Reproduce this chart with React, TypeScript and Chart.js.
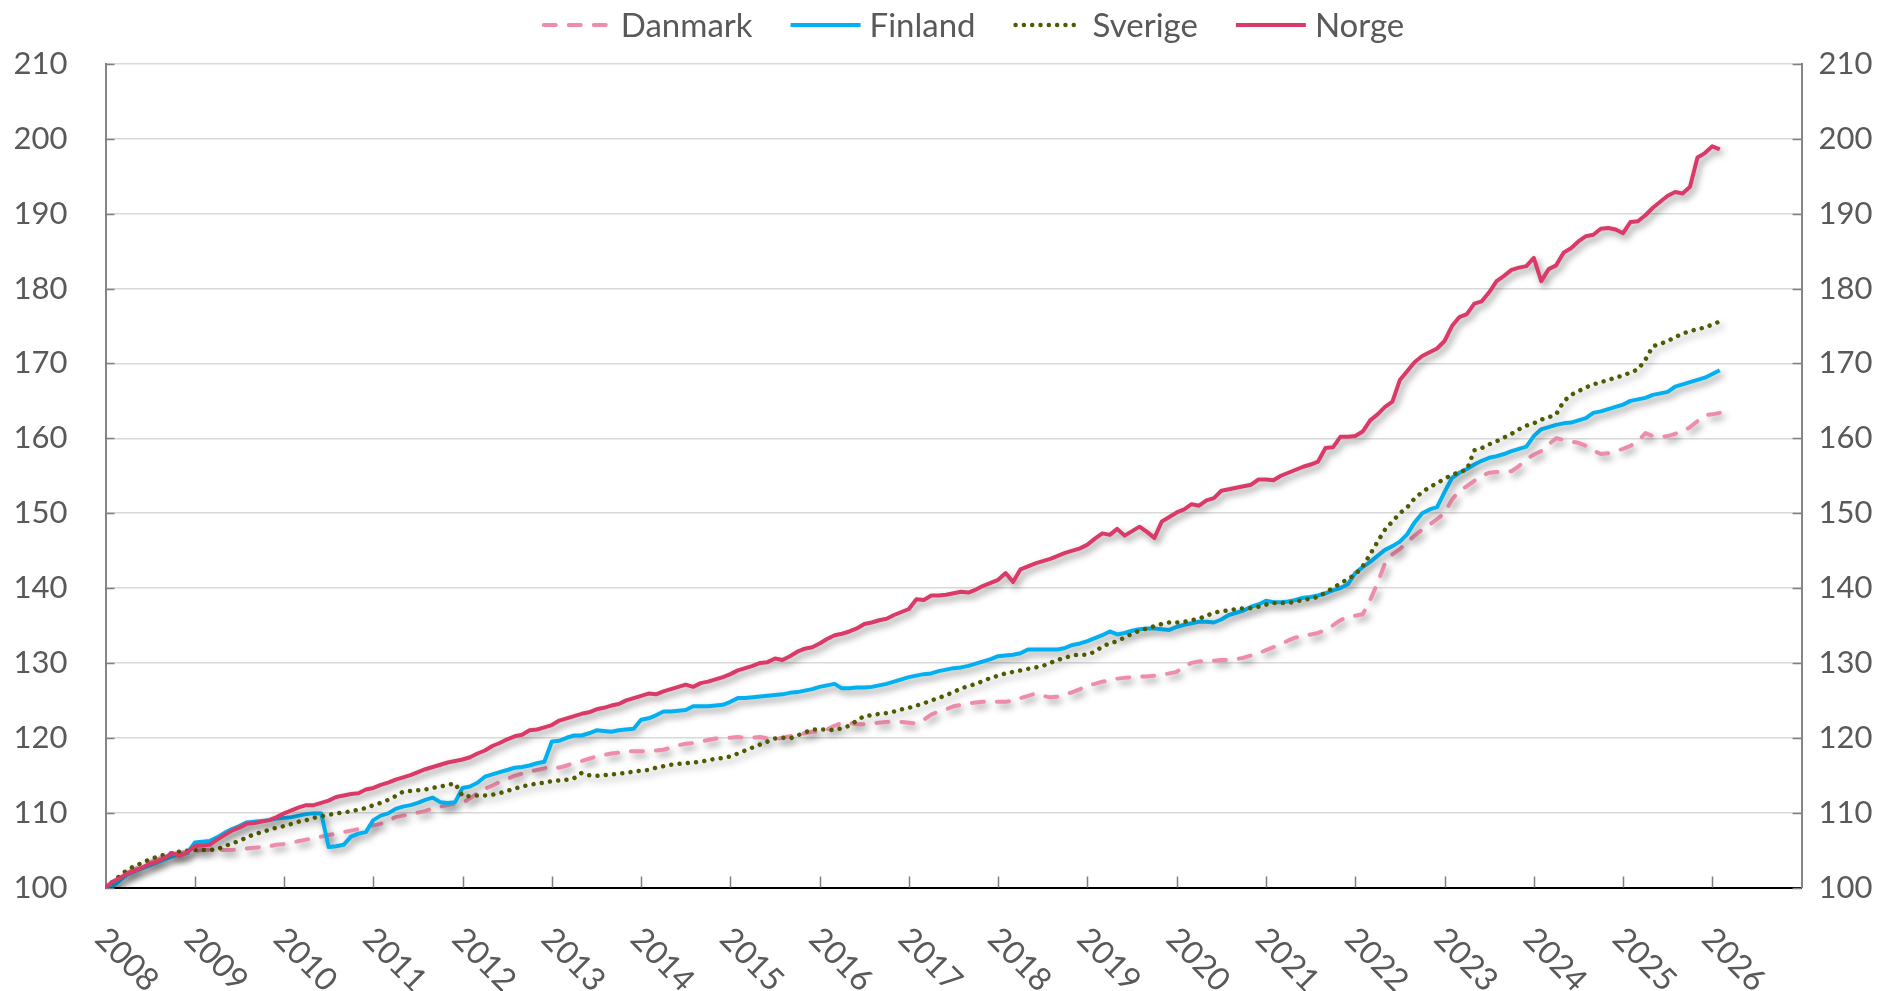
import React, { useEffect, useRef } from "react";
import { Chart, registerables } from "chart.js";

Chart.register(...registerables);

// ---------- DATA (monthly, Jan 2008 – Feb 2026) ----------
const startYear = 2008;
const yearTicks = [2008, 2009, 2010, 2011, 2012, 2013, 2014, 2015, 2016, 2017, 2018, 2019, 2020, 2021, 2022, 2023, 2024, 2025, 2026];
const yTicks = [100, 110, 120, 130, 140, 150, 160, 170, 180, 190, 200, 210];
const seriesNames = ["Danmark", "Finland", "Sverige", "Norge"];

const danmark = [
  100, 100.6, 101.4, 102.0, 102.5, 103.0, 103.4, 103.8, 104.1, 104.4, 104.6, 104.8,
  104.9, 105.0, 105.0, 105.0, 105.0, 105.0, 105.1, 105.2, 105.3, 105.4, 105.5, 105.7,
  105.8, 106.0, 106.2, 106.4, 106.6, 106.8, 107.0, 107.2, 107.4, 107.6, 107.8, 108.1,
  108.3, 108.5, 108.9, 109.4, 109.6, 109.8, 110.0, 110.2, 110.6, 110.8, 111.0, 111.2,
  111.3, 111.9, 112.6, 113.2, 113.6, 114.1, 114.5, 114.9, 115.2, 115.5, 115.7, 115.9,
  116.2, 116.0, 116.3, 116.6, 116.9, 117.2, 117.5, 117.7, 117.9, 118.0, 118.2, 118.2,
  118.2, 118.2, 118.3, 118.4, 118.7, 119.0, 119.2, 119.3, 119.5, 119.7, 119.9, 120.0,
  120.0, 120.1, 120.0, 120.0, 120.1, 119.9, 119.8, 120.0, 120.2, 120.4, 120.6, 120.8,
  120.8, 121.1, 121.6, 122.0, 122.0, 121.8, 121.8, 121.9, 122.0, 122.1, 122.1, 122.1,
  122.0, 121.9, 122.4, 123.1, 123.5, 123.8, 124.2, 124.4, 124.6, 124.7, 124.8, 124.8,
  124.8, 124.8, 125.0, 125.3, 125.6, 125.9, 125.6, 125.4, 125.5, 125.8, 126.1, 126.5,
  127.0, 127.2, 127.5, 127.7, 127.9, 128.0, 128.1, 128.2, 128.2, 128.3, 128.4, 128.6,
  128.8, 129.6, 130.0, 130.2, 130.3, 130.3, 130.4, 130.4, 130.5, 130.7, 131.0, 131.3,
  131.7, 132.1, 132.5, 133.0, 133.4, 133.6, 133.8, 134.0, 134.4, 135.0, 135.7, 136.2,
  136.3, 136.5, 138.4, 140.7, 143.3, 144.5, 145.2, 146.2, 147.0, 147.8, 148.5, 149.2,
  150.0, 151.8, 153.0, 153.6, 154.3, 155.0, 155.4, 155.5, 155.5, 155.6, 156.3, 157.2,
  157.8, 158.3, 159.2, 160.0, 159.8, 159.6, 159.4, 159.0, 158.4, 157.9, 158.0, 158.3,
  158.6, 159.0, 159.6, 160.7, 160.3, 160.2, 160.3, 160.6, 160.9, 161.5, 162.3, 163.1,
  163.2, 163.4,
];

const finland = [
  100, 100.2, 101.0, 101.8, 102.2, 102.6, 103.0, 103.4, 103.8, 104.2, 104.4, 104.6,
  106.0, 106.1, 106.2, 106.7, 107.3, 107.8, 108.2, 108.7, 108.8, 108.9, 109.0, 109.2,
  109.3, 109.4, 109.6, 109.8, 109.9, 109.9, 105.4, 105.5, 105.7, 106.8, 107.2, 107.4,
  109.0, 109.6, 109.9, 110.5, 110.8, 111.0, 111.3, 111.7, 112.0, 111.4, 111.3, 111.4,
  113.3, 113.5, 114.0, 114.8, 115.1, 115.4, 115.7, 116.0, 116.1, 116.3, 116.6, 116.8,
  119.5, 119.6, 120.0, 120.3, 120.3, 120.6, 121.0, 120.9, 120.8, 121.0, 121.1, 121.2,
  122.4, 122.6, 123.0, 123.5, 123.5, 123.6, 123.7, 124.2, 124.2, 124.2, 124.3, 124.4,
  124.8, 125.3, 125.3, 125.4, 125.5, 125.6, 125.7, 125.8, 126.0, 126.1, 126.3, 126.5,
  126.8, 127.0, 127.2, 126.6, 126.6, 126.7, 126.7, 126.8, 127.0, 127.2, 127.5, 127.8,
  128.1, 128.3, 128.5, 128.6, 128.9, 129.1, 129.3, 129.4, 129.6, 129.9, 130.2, 130.5,
  130.9, 131.0, 131.1, 131.3, 131.8, 131.8, 131.8, 131.8, 131.8, 132.0, 132.4, 132.6,
  132.9, 133.3, 133.7, 134.2, 133.8, 134.0, 134.3, 134.5, 134.6, 134.6, 134.5, 134.4,
  134.8, 135.1, 135.3, 135.5, 135.5, 135.4, 135.8, 136.4, 136.7, 137.0, 137.5, 137.8,
  138.3, 138.1, 138.1, 138.2, 138.4, 138.7, 138.8, 139.0, 139.3, 139.7, 140.0, 140.5,
  142.0, 142.8, 143.5, 144.3, 145.1, 145.6, 146.2, 147.2, 148.8, 150.0, 150.5, 150.8,
  152.8, 154.7, 155.4, 155.9, 156.5, 157.0, 157.4, 157.6, 157.9, 158.3, 158.6, 158.9,
  160.3, 161.2, 161.5, 161.8, 162.0, 162.1, 162.4, 162.7, 163.4, 163.6, 163.9, 164.2,
  164.5, 165.0, 165.2, 165.4, 165.8, 166.0, 166.2, 166.9, 167.2, 167.5, 167.8, 168.1,
  168.6, 169.1,
];

const sverige = [
  100, 100.8, 101.6, 102.4, 102.9, 103.3, 103.8, 104.1, 104.4, 104.6, 104.8, 104.9,
  105.0, 105.0, 105.0, 105.1, 105.5, 105.9, 106.2, 106.7, 107.1, 107.4, 107.7, 108.0,
  108.2, 108.5, 108.8, 109.0, 109.3, 109.5, 109.7, 109.9, 110.0, 110.2, 110.4, 110.6,
  111.0, 111.3, 111.7, 112.2, 112.8, 112.9, 113.0, 113.1, 113.3, 113.5, 113.7, 113.9,
  112.2, 112.2, 112.3, 112.3, 112.4, 112.6, 112.9, 113.2, 113.5, 113.7, 113.9, 114.0,
  114.2, 114.3, 114.4, 114.6, 115.3, 115.0, 114.9, 115.0, 115.1, 115.2, 115.3, 115.5,
  115.6, 115.7, 116.0, 116.2, 116.4, 116.5, 116.6, 116.7, 116.8, 117.0, 117.2, 117.3,
  117.5, 117.9, 118.3, 118.7, 119.1, 119.5, 119.9, 120.0, 119.9, 120.3, 120.7, 121.1,
  121.1, 121.1, 121.0, 121.3, 121.6, 122.3, 122.9, 123.0, 123.2, 123.3, 123.5, 123.8,
  124.0, 124.3, 124.6, 125.0, 125.3, 125.7, 126.1, 126.6, 126.9, 127.2, 127.6, 128.0,
  128.3, 128.6, 128.8, 129.0, 129.2, 129.4, 129.6, 130.0, 130.4, 130.7, 131.0, 131.1,
  131.1, 131.5, 132.2, 132.6, 132.9, 133.4, 133.9, 134.3, 134.6, 134.9, 135.2, 135.4,
  135.4, 135.5, 135.7, 135.9, 136.3, 136.7, 136.9, 137.0, 137.2, 137.3, 137.3, 137.5,
  137.8, 138.0, 138.0, 138.0, 138.2, 138.4, 138.6, 138.8, 139.4, 140.0, 140.6, 141.2,
  141.8, 142.9, 144.5, 146.2, 147.8, 148.9, 150.0, 150.8, 152.0, 152.8, 153.5, 154.0,
  154.6, 155.1, 155.5, 155.8, 158.4, 158.7, 159.2, 159.6, 160.1, 160.6, 161.2, 161.7,
  162.0, 162.5, 162.8, 163.2, 164.9, 165.8, 166.3, 166.8, 167.2, 167.5, 167.8, 168.1,
  168.4, 168.8, 169.2, 170.5, 172.3, 172.6, 173.0, 173.5, 174.0, 174.3, 174.6, 174.8,
  175.2, 175.6,
];

const norge = [
  100, 100.8, 101.3, 101.9, 102.3, 102.7, 103.2, 103.5, 104.0, 104.6, 104.2, 104.7,
  105.5, 105.6, 105.7, 106.4, 107.0, 107.6, 108.0, 108.5, 108.6, 108.8, 109.0, 109.4,
  109.9, 110.3, 110.7, 111.0, 111.0, 111.3, 111.6, 112.1, 112.3, 112.5, 112.6, 113.1,
  113.3, 113.7, 114.0, 114.4, 114.7, 115.0, 115.4, 115.8, 116.1, 116.4, 116.7, 116.9,
  117.1, 117.4, 117.9, 118.3, 118.9, 119.3, 119.8, 120.2, 120.4, 121.0, 121.1, 121.4,
  121.7, 122.3, 122.6, 122.9, 123.2, 123.4, 123.8, 124.0, 124.3, 124.5, 125.0, 125.3,
  125.6, 125.9, 125.8, 126.2, 126.5, 126.8, 127.1, 126.8, 127.3, 127.5, 127.8, 128.1,
  128.5, 129.0, 129.3, 129.6, 130.0, 130.1, 130.6, 130.4, 130.9, 131.5, 131.9, 132.1,
  132.6, 133.2, 133.7, 133.9, 134.2, 134.6, 135.2, 135.4, 135.7, 135.9, 136.4, 136.8,
  137.2, 138.5, 138.4, 139.0, 139.0, 139.1, 139.3, 139.5, 139.4, 139.8, 140.3, 140.7,
  141.1, 142.0, 140.8, 142.5, 142.9, 143.3, 143.6, 143.9, 144.3, 144.7, 145.0, 145.3,
  145.8, 146.6, 147.3, 147.1, 147.9, 147.0, 147.6, 148.2, 147.5, 146.7, 148.9, 149.5,
  150.1, 150.5, 151.2, 151.0, 151.7, 152.0, 153.0, 153.2, 153.4, 153.6, 153.8, 154.5,
  154.5, 154.4, 155.0, 155.4, 155.8, 156.2, 156.5, 156.9, 158.7, 158.8, 160.2, 160.2,
  160.3, 160.9, 162.4, 163.2, 164.2, 164.9, 167.8, 169.0, 170.2, 171.0, 171.5, 172.0,
  173.0, 175.0, 176.2, 176.6, 178.0, 178.3, 179.5, 181.0, 181.7, 182.5, 182.8, 183.0,
  184.1, 181.0, 182.6, 183.1, 184.8, 185.4, 186.3, 187.0, 187.2, 188.0, 188.1, 187.9,
  187.4, 188.9, 189.0, 189.8, 190.8, 191.6, 192.4, 192.9, 192.7, 193.6, 197.5, 198.1,
  199.0, 198.6,
];

// ---------- STYLE ----------
const FONT = "Lato, 'Open Sans', sans-serif";
const TEXT_COLOR = "#595959";

const toPoints = (arr: number[]) => arr.map((v, i) => ({ x: startYear + i / 12, y: v }));

const decorPlugin = {
  id: "decor",
  beforeDatasetDraw(chart: any) {
    const ctx = chart.ctx;
    ctx.save();
    ctx.shadowColor = "rgba(0,0,0,0.42)";
    ctx.shadowBlur = 7;
    ctx.shadowOffsetX = 3;
    ctx.shadowOffsetY = 4;
  },
  afterDatasetDraw(chart: any) {
    chart.ctx.restore();
  },
  afterDraw(chart: any) {
    const { ctx, chartArea, scales } = chart;
    const xs = scales.x;
    const ys = scales.y;
    ctx.save();
    // tick marks
    ctx.strokeStyle = "#808080";
    ctx.lineWidth = 1.5;
    ctx.beginPath();
    yearTicks.forEach((yr) => {
      if (yr === startYear) return;
      const px = Math.round(xs.getPixelForValue(yr)) + 0.5;
      ctx.moveTo(px, chartArea.bottom);
      ctx.lineTo(px, chartArea.bottom - 11);
    });
    yTicks.forEach((v) => {
      const py = Math.round(ys.getPixelForValue(v)) + 0.5;
      ctx.moveTo(chartArea.left, py);
      ctx.lineTo(chartArea.left + 9, py);
      ctx.moveTo(chartArea.right, py);
      ctx.lineTo(chartArea.right - 9, py);
    });
    ctx.stroke();

    // rotated x labels
    ctx.fillStyle = TEXT_COLOR;
    ctx.font = `32px ${FONT}`;
    ctx.textAlign = "left";
    ctx.textBaseline = "middle";
    yearTicks.forEach((yr) => {
      const px = xs.getPixelForValue(yr);
      ctx.save();
      ctx.translate(px - 5, chartArea.bottom + 46);
      ctx.rotate(Math.PI / 4);
      ctx.fillText(String(yr), 0, 0);
      ctx.restore();
    });

    // legend
    const sampleW = 70;
    const gapText = 9;
    const gapItem = 38;
    ctx.font = `33px ${FONT}`;
    const items = chart.data.datasets.map((ds: any) => ({
      ds,
      w: sampleW + gapText + ctx.measureText(ds.label).width,
    }));
    const total = items.reduce((s: number, it: any) => s + it.w, 0) + gapItem * (items.length - 1);
    let x = 973 - total / 2;
    const ly = 25;
    items.forEach((it: any) => {
      const ds = it.ds;
      ctx.save();
      ctx.strokeStyle = ds.borderColor;
      ctx.lineWidth = ds.borderWidth;
      ctx.lineCap = ds.borderCapStyle || "butt";
      ctx.setLineDash(ds.borderDash || []);
      ctx.beginPath();
      const inset = ds.borderCapStyle === "round" ? 2 : 0;
      ctx.moveTo(x + inset, ly);
      ctx.lineTo(x + sampleW - inset, ly);
      ctx.stroke();
      ctx.restore();
      ctx.fillStyle = TEXT_COLOR;
      ctx.fillText(ds.label, x + sampleW + gapText, ly + 1);
      x += it.w + gapItem;
    });
    ctx.restore();
  },
};

export default function App() {
  const ref = useRef<HTMLCanvasElement | null>(null);

  useEffect(() => {
    if (!ref.current) return;
    Chart.defaults.font.family = FONT;
    const chart = new Chart(ref.current, {
      type: "line",
      data: {
        datasets: [
          {
            label: seriesNames[0],
            data: toPoints(danmark),
            borderColor: "#EE8DAB",
            borderWidth: 4,
            borderDash: [12, 13],
            borderCapStyle: "round",
            order: 3,
          },
          {
            label: seriesNames[1],
            data: toPoints(finland),
            borderColor: "#00B0F0",
            borderWidth: 4,
            order: 2,
          },
          {
            label: seriesNames[2],
            data: toPoints(sverige),
            borderColor: "#4F5B00",
            borderWidth: 4.5,
            borderDash: [0.01, 8.3],
            borderCapStyle: "round",
            order: 1,
          },
          {
            label: seriesNames[3],
            data: toPoints(norge),
            borderColor: "#DB3A68",
            borderWidth: 4,
            order: 0,
          },
        ] as any,
      },
      options: {
        animation: false,
        responsive: true,
        maintainAspectRatio: false,
        parsing: false as any,
        normalized: true,
        layout: { padding: { top: 64, left: 0, right: 0, bottom: 0 } },
        elements: {
          point: { radius: 0, hoverRadius: 0 },
          line: { tension: 0, borderJoinStyle: "round" as any },
        },
        plugins: {
          legend: { display: false },
          tooltip: { enabled: false },
        },
        events: [],
        scales: {
          x: {
            type: "linear",
            min: 2008,
            max: 2027,
            ticks: { display: false, stepSize: 1 },
            grid: { display: false, drawTicks: false },
            border: { display: true, color: "#000000", width: 2 },
            afterFit: (s: any) => {
              s.height = 103.5;
            },
          },
          y: {
            position: "left",
            min: 100,
            max: 210,
            ticks: {
              stepSize: 10,
              padding: 38,
              color: TEXT_COLOR,
              font: { family: FONT, size: 31 },
            },
            grid: { color: "#D9D9D9", lineWidth: 1.5, drawTicks: false },
            border: { display: true, color: "#868686", width: 2 },
            afterFit: (s: any) => {
              s.width = 105.5;
            },
          },
          y2: {
            position: "right",
            min: 100,
            max: 210,
            ticks: {
              stepSize: 10,
              padding: 17,
              color: TEXT_COLOR,
              font: { family: FONT, size: 31 },
            },
            grid: { display: false, drawTicks: false, drawOnChartArea: false },
            border: { display: true, color: "#868686", width: 2 },
            afterFit: (s: any) => {
              s.width = 99.4;
            },
          },
        } as any,
      },
      plugins: [decorPlugin as any],
    });
    return () => chart.destroy();
  }, []);

  return (
    <div
      style={{
        position: "fixed",
        left: 0,
        top: 0,
        width: 1901,
        height: 991,
        background: "#ffffff",
      }}
    >
      <canvas ref={ref} />
    </div>
  );
}
